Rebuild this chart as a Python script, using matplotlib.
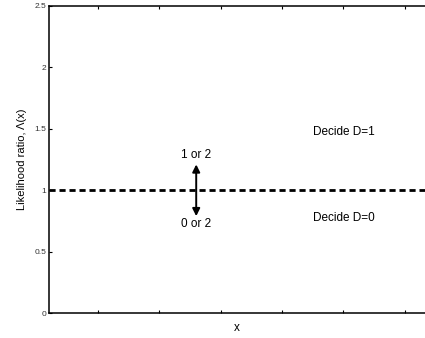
import matplotlib
matplotlib.use('Agg')
import matplotlib.pyplot as plt

plt.rcParams['font.family'] = ['Liberation Sans', 'DejaVu Sans']

# 数据
x_ticks = [1, 2, 3, 4, 5, 6]
y_ticks = [0, 0.5, 1, 1.5, 2, 2.5]
y_tick_labels = ['0', '0.5', '1', '1.5', '2', '2.5']
x_lim = [0.2, 6.33]
threshold = 1.0
arrow_x = 2.6
arrow_y = [0.79, 1.21]
label_up = '1 or 2'
label_down = '0 or 2'
decide_x = 5.0
decide_labels = ['Decide D=1', 'Decide D=0']
decide_y = [1.47, 0.775]

fig = plt.figure(figsize=(4.25, 3.38), dpi=100)
ax = fig.add_axes([0.1153, 0.0725, 0.8847, 0.9112])

# 阈值虚线
ax.plot(x_lim, [threshold, threshold], color='black', linestyle='--',
        linewidth=2.0, dashes=(2.2, 1.4))

# 双向箭头
ax.annotate('', xy=(arrow_x, arrow_y[1]), xytext=(arrow_x, arrow_y[0]),
            arrowprops=dict(arrowstyle='<|-|>', color='black', lw=1.4,
                            mutation_scale=11, shrinkA=0, shrinkB=0))
ax.text(arrow_x, 1.287, label_up, ha='center', va='center', fontsize=8.5)
ax.text(arrow_x, 0.727, label_down, ha='center', va='center', fontsize=8.5)

for lab, yy in zip(decide_labels, decide_y):
    ax.text(decide_x, yy, lab, ha='center', va='center', fontsize=8.5)

ax.set_xlim(x_lim)
ax.set_ylim(0, 2.5)
ax.set_xticks(x_ticks)
ax.set_xticklabels([])
ax.set_yticks(y_ticks)
ax.set_yticklabels(y_tick_labels, fontsize=6, color='#333333')
ax.tick_params(direction='in', length=2.5, width=0.8, top=True, pad=2)
ax.spines['right'].set_visible(False)
for s in ['left', 'top', 'bottom']:
    ax.spines[s].set_linewidth(1.1)

ax.set_ylabel('Likelihood ratio, \u039b(x)', fontsize=8, labelpad=5)
ax.set_xlabel('x', fontsize=8.5, labelpad=4)

plt.savefig('out.png', dpi=100)
plt.close()
